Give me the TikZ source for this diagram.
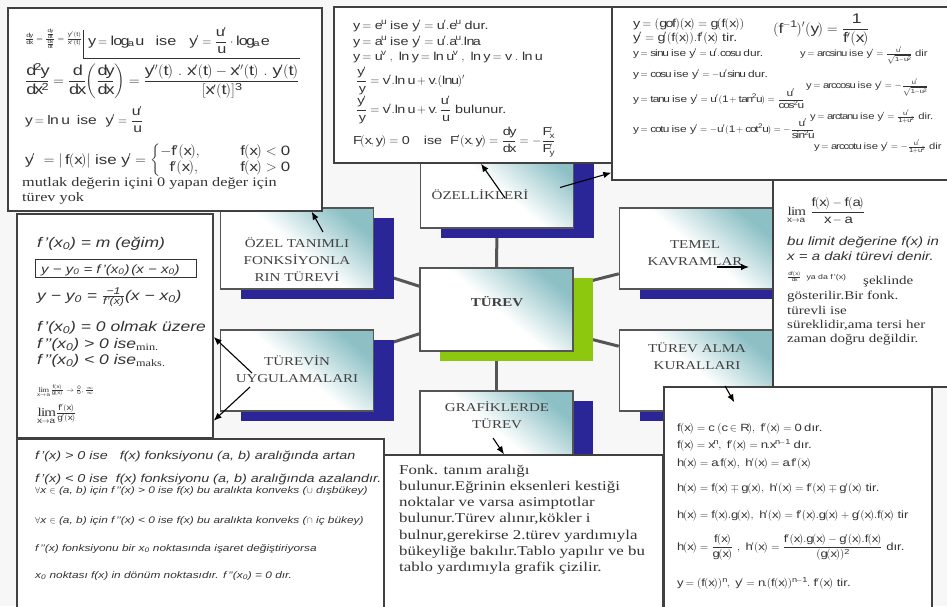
\documentclass[tikz,border=0pt]{standalone}
\usepackage{amsmath,amssymb}
\usepackage{fontspec}
\setmainfont[FakeStretch=1.25]{Liberation Serif}
\setsansfont[FakeStretch=1.25]{Liberation Sans}
\usepackage{tikz}
\usetikzlibrary{arrows.meta,shadows}

\definecolor{nodeteal}{RGB}{140,192,197}
\definecolor{shadowblue}{RGB}{42,38,152}
\definecolor{shadowgreen}{RGB}{142,200,14}
\definecolor{linkgray}{RGB}{85,85,85}
\definecolor{labelgray}{RGB}{64,64,64}
\definecolor{pagegray}{RGB}{247,247,247}

\pgfdeclarelayer{back}
\pgfsetlayers{back,main}

\newcommand{\fs}[1]{\fontsize{#1}{#1}\selectfont}

\begin{document}
\begin{tikzpicture}[x=1pt,y=-1pt,>={Latex[length=8pt,width=6.5pt]},
  concept/.style={draw=linkgray,line width=1.6pt,minimum width=153pt,minimum height=81pt,
    top color=nodeteal,bottom color=white,middle color=white,shading angle=-40,
    drop shadow={shadow xshift=20pt,shadow yshift=-10pt,fill=#1,opacity=1}},
  concept/.default=shadowblue,
  title/.style={font=\fontsize{12}{17}\selectfont,text=labelgray,align=center},
  sheet/.style={draw=black!75,line width=1.4pt,fill=white,inner sep=0pt},
  txt/.style={anchor=base west,inner sep=0pt,text=black!80},
  link/.style={draw=linkgray,line width=3pt},
  pointer/.style={->,line width=1.1pt}]
\useasboundingbox (0,0) rectangle (947,606);
\clip (0,0) rectangle (947,606);

% concept boxes
\node[concept] (ozeltanim) at (297,248.5) {};
\node[concept] (turevin) at (297,370.5) {};
\node[concept] (ozellik) at (497,187.5) {};
\node[concept=shadowgreen,minimum height=83pt] (turev) at (496.5,309.5) {};
\node[concept] (grafik) at (496.5,431.5) {};
\node[concept] (temel) at (696,248.5) {};
\node[concept] (alma) at (696,370.5) {};

\node[title] (ozeltanim-t) at (297,260) {ÖZEL TANIMLI\\FONKSİYONLA\\RIN TÜREVİ};
\node[title] (turevin-t) at (297,369) {TÜREVİN\\UYGULAMALARI};
\node[title] (ozellik-t) at (480,195) {ÖZELLİKLERİ};
\node[title,font=\bfseries\fontsize{12}{17}\selectfont] (turev-t) at (497,302) {TÜREV};
\node[title] (grafik-t) at (497,415) {GRAFİKLERDE\\TÜREV};
\node[title] (temel-t) at (695,253) {TEMEL\\KAVRAMLAR};
\node[title] (alma-t) at (697,356) {TÜREV ALMA\\KURALLARI};

\begin{pgfonlayer}{back}
  \fill[pagegray] (0,0) rectangle (947,606);
  \draw[link] (ozellik.south) -- (turev.north);
  \draw[link] (turev.south) -- (grafik.north);
  \draw[link] ([yshift=18pt]ozeltanim.south east) -- ([yshift=-19pt]turev.north west);
  \draw[link] ([yshift=-19pt]turevin.north east) -- ([yshift=18pt]turev.south west);
  \draw[link] ([yshift=-18pt]turev.north east) -- ([yshift=16pt]temel.south west);
  \draw[link] ([yshift=17pt]turev.south east) -- ([yshift=-17pt]alma.north west);
\end{pgfonlayer}

% formula sheets
\node[sheet,minimum width=314pt,minimum height=203pt] (logbox) at (165,109.5) {};
\node[sheet,minimum width=280pt,minimum height=156pt] (expbox) at (474,85) {};
\node[sheet,minimum width=182pt,minimum height=207pt] (limbox) at (864,283.5) {};
\node[sheet,minimum width=343pt,minimum height=173pt] (chainbox) at (783.5,93.5) {};
\node[sheet,minimum width=196pt,minimum height=224pt] (tanbox) at (115,326) {};
\node[sheet,minimum width=367pt,minimum height=176pt] (signbox) at (200.5,527) {};
\node[sheet,minimum width=279pt,minimum height=160pt] (graphbox) at (523.5,535) {};
\node[sheet,minimum width=268pt,minimum height=228pt] (rulebox) at (798,501) {};

% logarithm / parametric sheet
\node[txt,font=\sffamily\fs{8}] (log1) at (25,41) {$\sf \frac{dy}{dx}=\frac{\frac{dy}{dt}}{\frac{dx}{dt}}=\frac{y'(t)}{x'(t)}$};
\draw[black!80,line width=0.8pt] (83,30) -- (83,58) -- (300,58);
\node[txt,font=\sffamily\fs{13}] (log2) at (88,45) {$\sf y=log_a\,u$\quad ise\quad $\sf y'=\dfrac{u'}{u}\cdot log_a\,e$};
\node[txt,font=\sffamily\fs{14.5}] (log3) at (25,85) {$\sf \dfrac{d^2y}{dx^2}=\dfrac{d}{dx}\biggl(\dfrac{dy}{dx}\biggr)=\dfrac{y''(t)\ .\ x'(t)-x''(t)\ .\ y'(t)}{[x'(t)]^3}$};
\node[txt,font=\sffamily\fs{12.5}] (log4) at (25,124) {$\sf y=ln\ u$\ \ ise\ \ $\sf y'=\dfrac{u'}{u}$};
\node[txt,font=\sffamily\fs{13.5}] (log5) at (25,164) {$\sf y'\ =|\,f(x)|$ ise $\sf y'=\begin{cases}\mathsf{-f'(x),} & \qquad\mathsf{f(x)<0}\\ \ \ \mathsf{f'(x),} & \qquad\mathsf{f(x)>0}\end{cases}$};
\node[txt,font=\fs{13}] (log6) at (22,186) {mutlak değerin içini 0 yapan değer için};
\node[txt,font=\fs{13}] (log7) at (22,201) {türev yok};

% exponential sheet
\node[txt,font=\sffamily\fs{11.5}] (exp1) at (353,29) {$\sf y=e^u$ ise $\sf y'=u'.e^u$ dur.};
\node[txt,font=\sffamily\fs{11.5}] (exp2) at (353,45) {$\sf y=a^u$ ise $\sf y'=u'.a^u.lna$};
\node[txt,font=\sffamily\fs{11.5}] (exp3) at (353,60) {$\sf y=u^v\ ,\ ln\ y=ln\ u^v\ ,\ ln\ y=v\ .\ ln\ u$};
\node[txt,font=\sffamily\fs{11.5}] (exp4) at (356,84) {$\sf \dfrac{y'}{y}=v'.ln\ u+v.(lnu)'$};
\node[txt,font=\sffamily\fs{11.5}] (exp5) at (356,113) {$\sf \dfrac{y'}{y}=v'.ln\ u+v.\,\dfrac{u'}{u}$ bulunur.};
\node[txt,font=\sffamily\fs{11.5}] (exp6) at (353,144) {$\sf F(x,y)=0$\quad\ ise\ \ $\sf F'(x,y)=\dfrac{dy}{dx}=-\dfrac{F'_x}{F'_y}$};

% chain rule / trigonometric sheet
\node[txt,font=\sffamily\fs{11.5}] (ch1) at (633,27) {$\sf y=(gof)(x)=g(f(x))$};
\node[txt,font=\sffamily\fs{11.5}] (ch2) at (633,41) {$\sf y'=g'(f(x)).f'(x)$ tir.};
\node[txt,font=\sffamily\fs{14}] (ch3) at (773,33) {$\sf (f^{-1})'(y)=\dfrac{1}{f'(x)}$};
\node[txt,font=\sffamily\fs{9.5}] (ch4) at (633,56) {$\sf y=sinu$ ise $\sf y'=u'.cosu$ dur.};
\node[txt,font=\sffamily\fs{9.5}] (ch5) at (633,77) {$\sf y=cosu$ ise $\sf y'=-u'sinu$ dur.};
\node[txt,font=\sffamily\fs{9.5}] (ch6) at (633,102) {$\sf y=tanu$ ise $\sf y'=u'(1+tan^2u)=\dfrac{u'}{cos^2u}$};
\node[txt,font=\sffamily\fs{9.5}] (ch7) at (633,132) {$\sf y=cotu$ ise $\sf y'=-u'(1+cot^2u)=-\dfrac{u'}{sin^2u}$};
\node[txt,font=\sffamily\fs{9}] (ch8) at (800,56) {$\sf y=arcsinu$ ise $\sf y'=\frac{u'}{\sqrt{1-u^2}}$ dir};
\node[txt,font=\sffamily\fs{9}] (ch9) at (806,88) {$\sf y=arccosu$ ise $\sf y'=-\frac{u'}{\sqrt{1-u^2}}$};
\node[txt,font=\sffamily\fs{9}] (ch10) at (810,119) {$\sf y=arctanu$ ise $\sf y'=\frac{u'}{1+u^2}$ dir.};
\node[txt,font=\sffamily\fs{9}] (ch11) at (814,149) {$\sf y=arccotu$ ise $\sf y'=-\frac{u'}{1+u^2}$ dir};

% tangent / extremum sheet
\node[txt,font=\sffamily\itshape\fs{14}] (tan1) at (37,247) {f\,’(x\textsubscript{0}) = m (eğim)};
\draw[black!80,line width=0.8pt] (35,259) rectangle (196,277);
\node[txt,font=\sffamily\itshape\fs{12}] (tan2) at (41,273) {y − y\textsubscript{0} = f\,’(x\textsubscript{0})\,(x − x\textsubscript{0})};
\node[txt,font=\sffamily\itshape\fs{14}] (tan3) at (37,300) {y − y\textsubscript{0} = $\frac{\text{−1}}{\text{f’(x)}}$(x − x\textsubscript{0})};
\node[txt,font=\sffamily\itshape\fs{14}] (tan4) at (37,331) {f\,’(x\textsubscript{0}) = 0 olmak üzere};
\node[txt,font=\sffamily\itshape\fs{14}] (tan5) at (37,348) {f\,’’(x\textsubscript{0}) > 0 ise\textsubscript{\upshape\rmfamily min.}};
\node[txt,font=\sffamily\itshape\fs{14}] (tan6) at (37,364) {f\,’’(x\textsubscript{0}) < 0 ise\textsubscript{\upshape\rmfamily maks.}};
\node[txt,font=\sffamily\fs{7}] (tan7) at (37,392) {$\sf \lim\limits_{x\to a}\frac{f(x)}{g(x)}\to\frac{0}{0},\frac{\infty}{\infty}$};
\node[txt,font=\sffamily\fs{12}] (tan8) at (37,416) {$\sf \lim\limits_{x\to a}\frac{f'(x)}{g'(x)}$};

% increasing / convexity sheet
\node[txt,font=\sffamily\itshape\fs{11.5}] (sg1) at (35,459) {f\,’(x) > 0 ise \ \ f(x) fonksiyonu (a, b) aralığında artan};
\node[txt,font=\sffamily\itshape\fs{11.5}] (sg2) at (35,482) {f\,’(x) < 0 ise \ f(x) fonksiyonu (a, b) aralığında azalandır.};
\node[txt,font=\sffamily\itshape\fs{9.5}] (sg3) at (35,493) {$\forall$x $\in$ (a, b) için f\,’’(x) > 0 ise f(x) bu aralıkta konveks ($\cup$ dışbükey)};
\node[txt,font=\sffamily\itshape\fs{9.5}] (sg4) at (35,523) {$\forall$x $\in$ (a, b) için f\,’’(x) < 0 ise f(x) bu aralıkta konveks ($\cap$ iç bükey)};
\node[txt,font=\sffamily\itshape\fs{9.5}] (sg5) at (35,551) {f\,’’(x) fonksiyonu bir x\textsubscript{0} noktasında işaret değiştiriyorsa};
\node[txt,font=\sffamily\itshape\fs{9.5}] (sg6) at (35,578) {x\textsubscript{0} noktası f(x) in dönüm noktasıdır. f\,’’(x\textsubscript{0}) = 0 dır.};

% graph drawing sheet
\foreach \txtline [count=\i] in {Fonk. tanım aralığı, bulunur.Eğrinin eksenleri kestiği,
    noktalar ve varsa asimptotlar, {bulunur.Türev alınır,kökler i},
    {bulnur,gerekirse 2.türev yardımıyla}, bükeyliğe bakılır.Tablo yapılır ve bu,
    tablo yardımıyla grafik çizilir.}
  \node[txt,font=\fs{13.5}] (gr\i) at (399,457.7+16.3*\i) {\txtline};

% derivative rules sheet
\node[txt,font=\sffamily\fs{10.5}] (ru1) at (677,431) {$\sf f(x)=c\ (c\in R),\ f'(x)=0$ dır.};
\node[txt,font=\sffamily\fs{10.5}] (ru2) at (677,448) {$\sf f(x)=x^n,\ f'(x)=n.x^{n-1}$ dır.};
\node[txt,font=\sffamily\fs{10.5}] (ru3) at (677,466) {$\sf h(x)=a.f(x),\ h'(x)=a.f'(x)$};
\node[txt,font=\sffamily\fs{10.5}] (ru4) at (677,491) {$\sf h(x)=f(x)\mp g(x),\ h'(x)=f'(x)\mp g'(x)$ tir.};
\node[txt,font=\sffamily\fs{10.5}] (ru5) at (677,518) {$\sf h(x)=f(x).g(x),\ h'(x)=f'(x).g(x)+g'(x).f(x)$ tir};
\node[txt,font=\sffamily\fs{10.5}] (ru6) at (677,550) {$\sf h(x)=\dfrac{f(x)}{g(x)}\ ,\ h'(x)=\dfrac{f'(x).g(x)-g'(x).f(x)}{(g(x))^2}$ dır.};
\node[txt,font=\sffamily\fs{10.5}] (ru7) at (677,586) {$\sf y=(f(x))^n,\ y'=n.(f(x))^{n-1}.\ f'(x)$ tir.};

% limit definition sheet
\node[txt,font=\sffamily\fs{12}] (lim1) at (787,215) {$\sf \lim\limits_{x\to a}\ \dfrac{f(x)-f(a)}{x-a}$};
\node[txt,font=\sffamily\itshape\fs{12}] (lim2) at (787,245) {bu limit değerine f(x) in};
\node[txt,font=\sffamily\itshape\fs{12}] (lim3) at (787,260) {x = a daki türevi denir.};
\node[txt,font=\sffamily\fs{7}] (lim4) at (787,279) {$\sf\frac{df(x)}{dx}$\ \ ya da f\,’(x)};
\node[txt,font=\fs{12}] (lim5) at (863,284) {şeklinde};
\node[txt,font=\fs{12}] (lim6) at (787,299) {gösterilir.Bir fonk.};
\node[txt,font=\fs{12}] (lim7) at (787,314) {türevli ise};
\node[txt,font=\fs{12}] (lim8) at (787,328) {süreklidir,ama tersi her};
\node[txt,font=\fs{12}] (lim9) at (787,342) {zaman doğru değildir.};

% pointers from the concept boxes
\draw[pointer] ([xshift=8pt,yshift=-10.5pt]ozellik.center) -- ([xshift=7pt]expbox.south);
\draw[pointer] ([xshift=63pt]ozellik.center) -- ([yshift=8pt]chainbox.south west);
\draw[pointer] ([xshift=26pt,yshift=16.5pt]ozeltanim.center) -- ([xshift=-11pt]logbox.south east);
\draw[pointer] ([xshift=-45pt,yshift=-2.5pt]turevin.center) -- ([yshift=-11pt]tanbox.east);
\draw[pointer] ([xshift=-47pt,yshift=-16.5pt]turevin.center) -- ([yshift=18pt]tanbox.south east);
\draw[pointer] ([xshift=21pt,yshift=-18.5pt]temel.center) -- ([xshift=53pt,yshift=-18.5pt]temel.center);
\draw[pointer] ([xshift=29pt,yshift=-15.5pt]alma.center) -- ([xshift=71pt,yshift=-16pt]rulebox.north west);
\draw[pointer] ([xshift=-3.5pt,yshift=-6.5pt]grafik.center) -- ([xshift=-19.5pt]graphbox.north);
\end{tikzpicture}
\end{document}
